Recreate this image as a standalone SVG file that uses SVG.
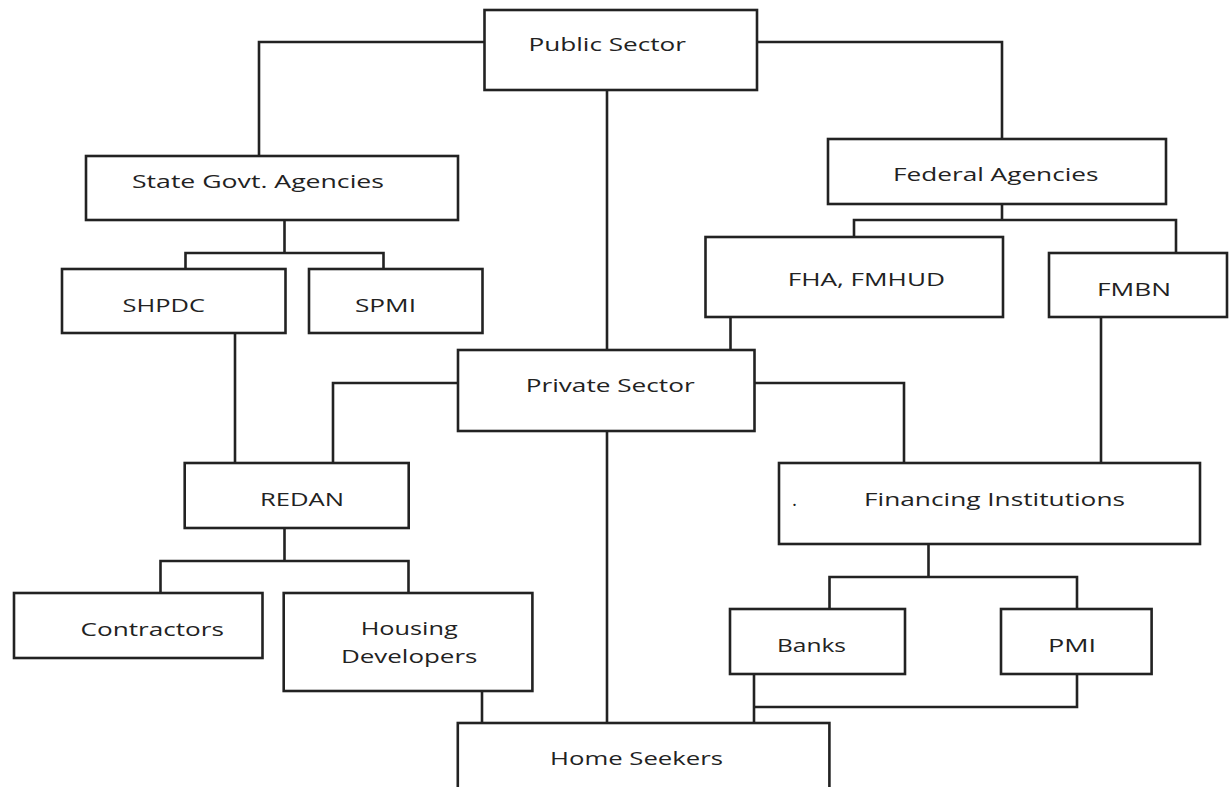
<svg xmlns="http://www.w3.org/2000/svg" width="1232" height="787" viewBox="0 0 1232 787">
<style>
.box{fill:#fff;stroke:#222;stroke-width:2.6}
.ln{fill:none;stroke:#222;stroke-width:2.6}
text{font-family:"Open Sans","Liberation Sans",sans-serif;font-size:19px;fill:#222}
</style>
<rect width="1232" height="787" fill="#fff"/>
<g id="connectors">
<path class="ln" d="M484,42 H259 V156"/>
<path class="ln" d="M757,42 H1002 V139"/>
<path class="ln" d="M607,90 V350"/>
<path class="ln" d="M284.5,220 V253 M185.5,269 V253 H383.5 V269"/>
<path class="ln" d="M1002,204 V220 M854,237 V220 H1176 V253"/>
<path class="ln" d="M730.5,317 V350"/>
<path class="ln" d="M235,333 V463"/>
<path class="ln" d="M458,383 H333 V463"/>
<path class="ln" d="M754,383 H904 V463"/>
<path class="ln" d="M1101,317 V463"/>
<path class="ln" d="M284.5,528 V561 M160.5,593 V561 H408.5 V593"/>
<path class="ln" d="M928.5,544 V577 M829.5,609 V577 H1077 V609"/>
<path class="ln" d="M482,691 V723"/>
<path class="ln" d="M607,431 V723"/>
<path class="ln" d="M754,674 V723 M754,707 H1077 V674"/>
</g>
<g id="public-sector"><rect class="box" x="484.5" y="10" width="272.5" height="80"/><text x="528.5" y="51" textLength="157.5" lengthAdjust="spacingAndGlyphs">Public Sector</text></g>
<g id="state-govt-agencies"><rect class="box" x="86" y="156" width="372" height="64"/><text x="132" y="187.5" textLength="252" lengthAdjust="spacingAndGlyphs">State Govt. Agencies</text></g>
<g id="federal-agencies"><rect class="box" x="828" y="139" width="338" height="65"/><text x="893" y="181" textLength="205.5" lengthAdjust="spacingAndGlyphs">Federal Agencies</text></g>
<g id="shpdc"><rect class="box" x="62" y="269" width="223.5" height="64"/><text x="122.6" y="312" textLength="82.4" lengthAdjust="spacingAndGlyphs">SHPDC</text></g>
<g id="spmi"><rect class="box" x="309" y="269" width="173.5" height="64"/><text x="355" y="312" textLength="61" lengthAdjust="spacingAndGlyphs">SPMI</text></g>
<g id="fha-fmhud"><rect class="box" x="705.5" y="237" width="297.5" height="80"/><text x="787.7" y="286" textLength="157.3" lengthAdjust="spacingAndGlyphs">FHA, FMHUD</text></g>
<g id="fmbn"><rect class="box" x="1049" y="253" width="178" height="64"/><text x="1097" y="295.5" textLength="74" lengthAdjust="spacingAndGlyphs">FMBN</text></g>
<g id="private-sector"><rect class="box" x="458" y="350" width="296.5" height="81"/><text x="525.7" y="392" textLength="169" lengthAdjust="spacingAndGlyphs">Private Sector</text></g>
<g id="redan"><rect class="box" x="184.7" y="463" width="224" height="65"/><text x="260" y="506" textLength="84" lengthAdjust="spacingAndGlyphs">REDAN</text></g>
<g id="financing-institutions"><rect class="box" x="779" y="463" width="421" height="81"/><text x="792" y="506" font-size="12">.</text><text x="864" y="506" textLength="261" lengthAdjust="spacingAndGlyphs">Financing Institutions</text></g>
<g id="contractors"><rect class="box" x="14" y="593" width="248.5" height="65"/><text x="80.5" y="636" textLength="143.5" lengthAdjust="spacingAndGlyphs">Contractors</text></g>
<g id="housing-developers"><rect class="box" x="283.7" y="593" width="248.7" height="98"/><text x="360.7" y="635" textLength="97" lengthAdjust="spacingAndGlyphs">Housing</text><text x="341" y="663" textLength="136.4" lengthAdjust="spacingAndGlyphs">Developers</text></g>
<g id="banks"><rect class="box" x="730" y="609" width="175" height="65"/><text x="777" y="652" textLength="69" lengthAdjust="spacingAndGlyphs">Banks</text></g>
<g id="pmi"><rect class="box" x="1001" y="609" width="150.6" height="65"/><text x="1048" y="652" textLength="48" lengthAdjust="spacingAndGlyphs">PMI</text></g>
<g id="home-seekers"><rect class="box" x="457.8" y="723" width="371.6" height="80"/><text x="550" y="765" textLength="173" lengthAdjust="spacingAndGlyphs">Home Seekers</text></g>
</svg>
